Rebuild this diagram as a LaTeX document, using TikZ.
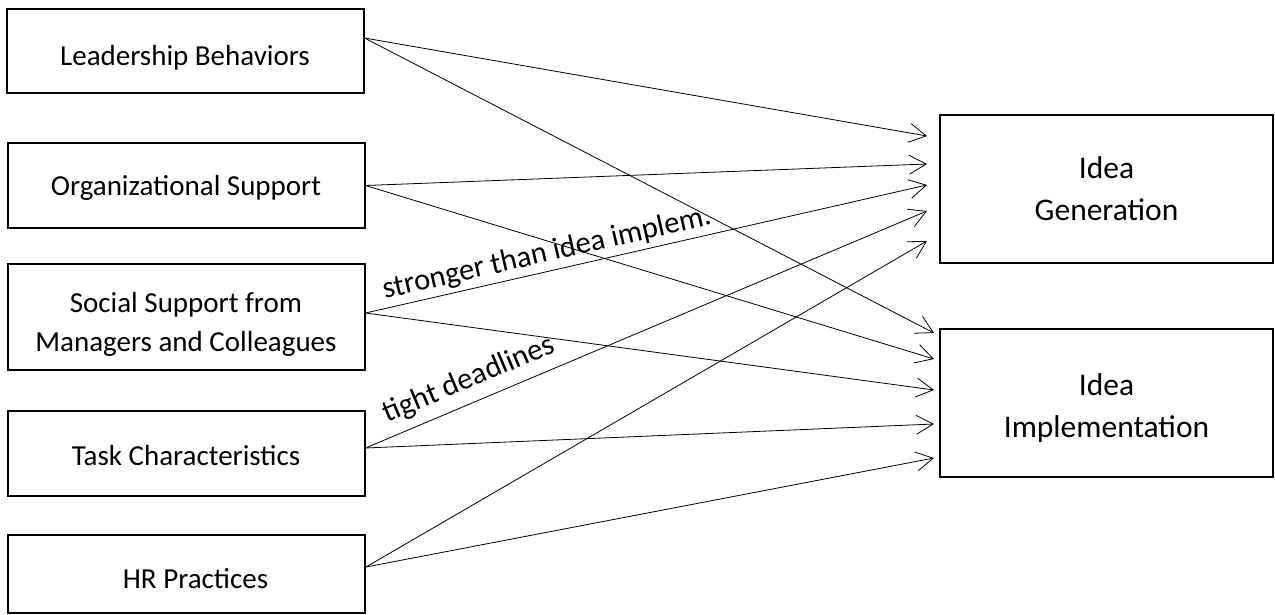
\documentclass[tikz,border=0pt]{standalone}
\usepackage{fontspec}
\setmainfont{Carlito}
\usetikzlibrary{arrows.meta}
\tikzset{
  leftbox/.style={draw, line width=2pt, minimum width=357pt, inner sep=0pt},
  rightbox/.style={draw, line width=2pt, minimum width=333pt, minimum height=148pt, inner sep=0pt},
  lefttext/.style={align=center, inner sep=0pt, font=\fontsize{29}{39}\selectfont},
  righttext/.style={align=center, inner sep=0pt, font=\fontsize{31.5}{42}\selectfont},
  conn/.style={line width=0.8pt, -{Straight Barb[length=17pt,width=19pt,line width=0.8pt]}},
  lbl/.style={font=\fontsize{30.5}{36}\selectfont, inner sep=4pt}
}
\begin{document}
\begin{tikzpicture}[x=1pt,y=-1pt]
\useasboundingbox (0,0) rectangle (1275,615);
% left boxes
\node[leftbox, minimum height=84pt] (lb) at (185,51) {};
\node[lefttext] (lbt) at ([yshift=-7pt]lb.center) {Leadership Behaviors};
\node[leftbox, minimum height=85pt] (os) at (186,185.5) {};
\node[lefttext] (ost) at ([yshift=-2pt]os.center) {Organizational Support};
\node[leftbox, minimum height=106pt] (ss) at (186,317) {};
\node[lefttext] (sst) at ([yshift=-7pt]ss.center) {Social Support from\\Managers and Colleagues};
\node[leftbox, minimum height=85pt] (tc) at (186,453.5) {};
\node[lefttext] (tct) at ([yshift=-2pt]tc.center) {Task Characteristics};
\node[leftbox, minimum height=78pt] (hr) at (186.5,574) {};
\node[lefttext] (hrt) at ([xshift=9pt,yshift=-5pt]hr.center) {HR Practices};
% right boxes
\node[rightbox] (ig) at (1106.5,189) {};
\node[righttext] (igt) at (ig.center) {Idea\\Generation};
\node[rightbox] (ii) at (1106.5,403) {};
\node[righttext] (iit) at ([yshift=-5pt]ii.center) {Idea\\Implementation};
% connectors to Idea Generation
\draw[conn] ([yshift=13pt]lb.east) -- ([xshift=-12pt,yshift=53pt]ig.west);
\draw[conn] (os.east) -- ([xshift=-12pt,yshift=25pt]ig.west);
\draw[conn] ([yshift=4pt]ss.east) -- node[lbl, sloped, above, pos=0.33] {stronger than idea implem.} ([xshift=-12pt,yshift=4pt]ig.west);
\draw[conn] ([yshift=5.5pt]tc.east) -- node[lbl, sloped, above, pos=0.2, inner sep=9pt] {tight deadlines} ([xshift=-12pt,yshift=-22pt]ig.west);
\draw[conn] ([yshift=7pt]hr.east) -- ([xshift=-12pt,yshift=-52pt]ig.west);
% connectors to Idea Implementation
\draw[conn] ([yshift=13pt]lb.east) -- ([xshift=-5pt,yshift=70pt]ii.west);
\draw[conn] (os.east) -- ([xshift=-5pt,yshift=44pt]ii.west);
\draw[conn] ([yshift=4pt]ss.east) -- ([xshift=-5pt,yshift=13pt]ii.west);
\draw[conn] ([yshift=5.5pt]tc.east) -- ([xshift=-5pt,yshift=-21pt]ii.west);
\draw[conn] ([yshift=7pt]hr.east) -- ([xshift=-5pt,yshift=-55pt]ii.west);
\end{tikzpicture}
\end{document}
